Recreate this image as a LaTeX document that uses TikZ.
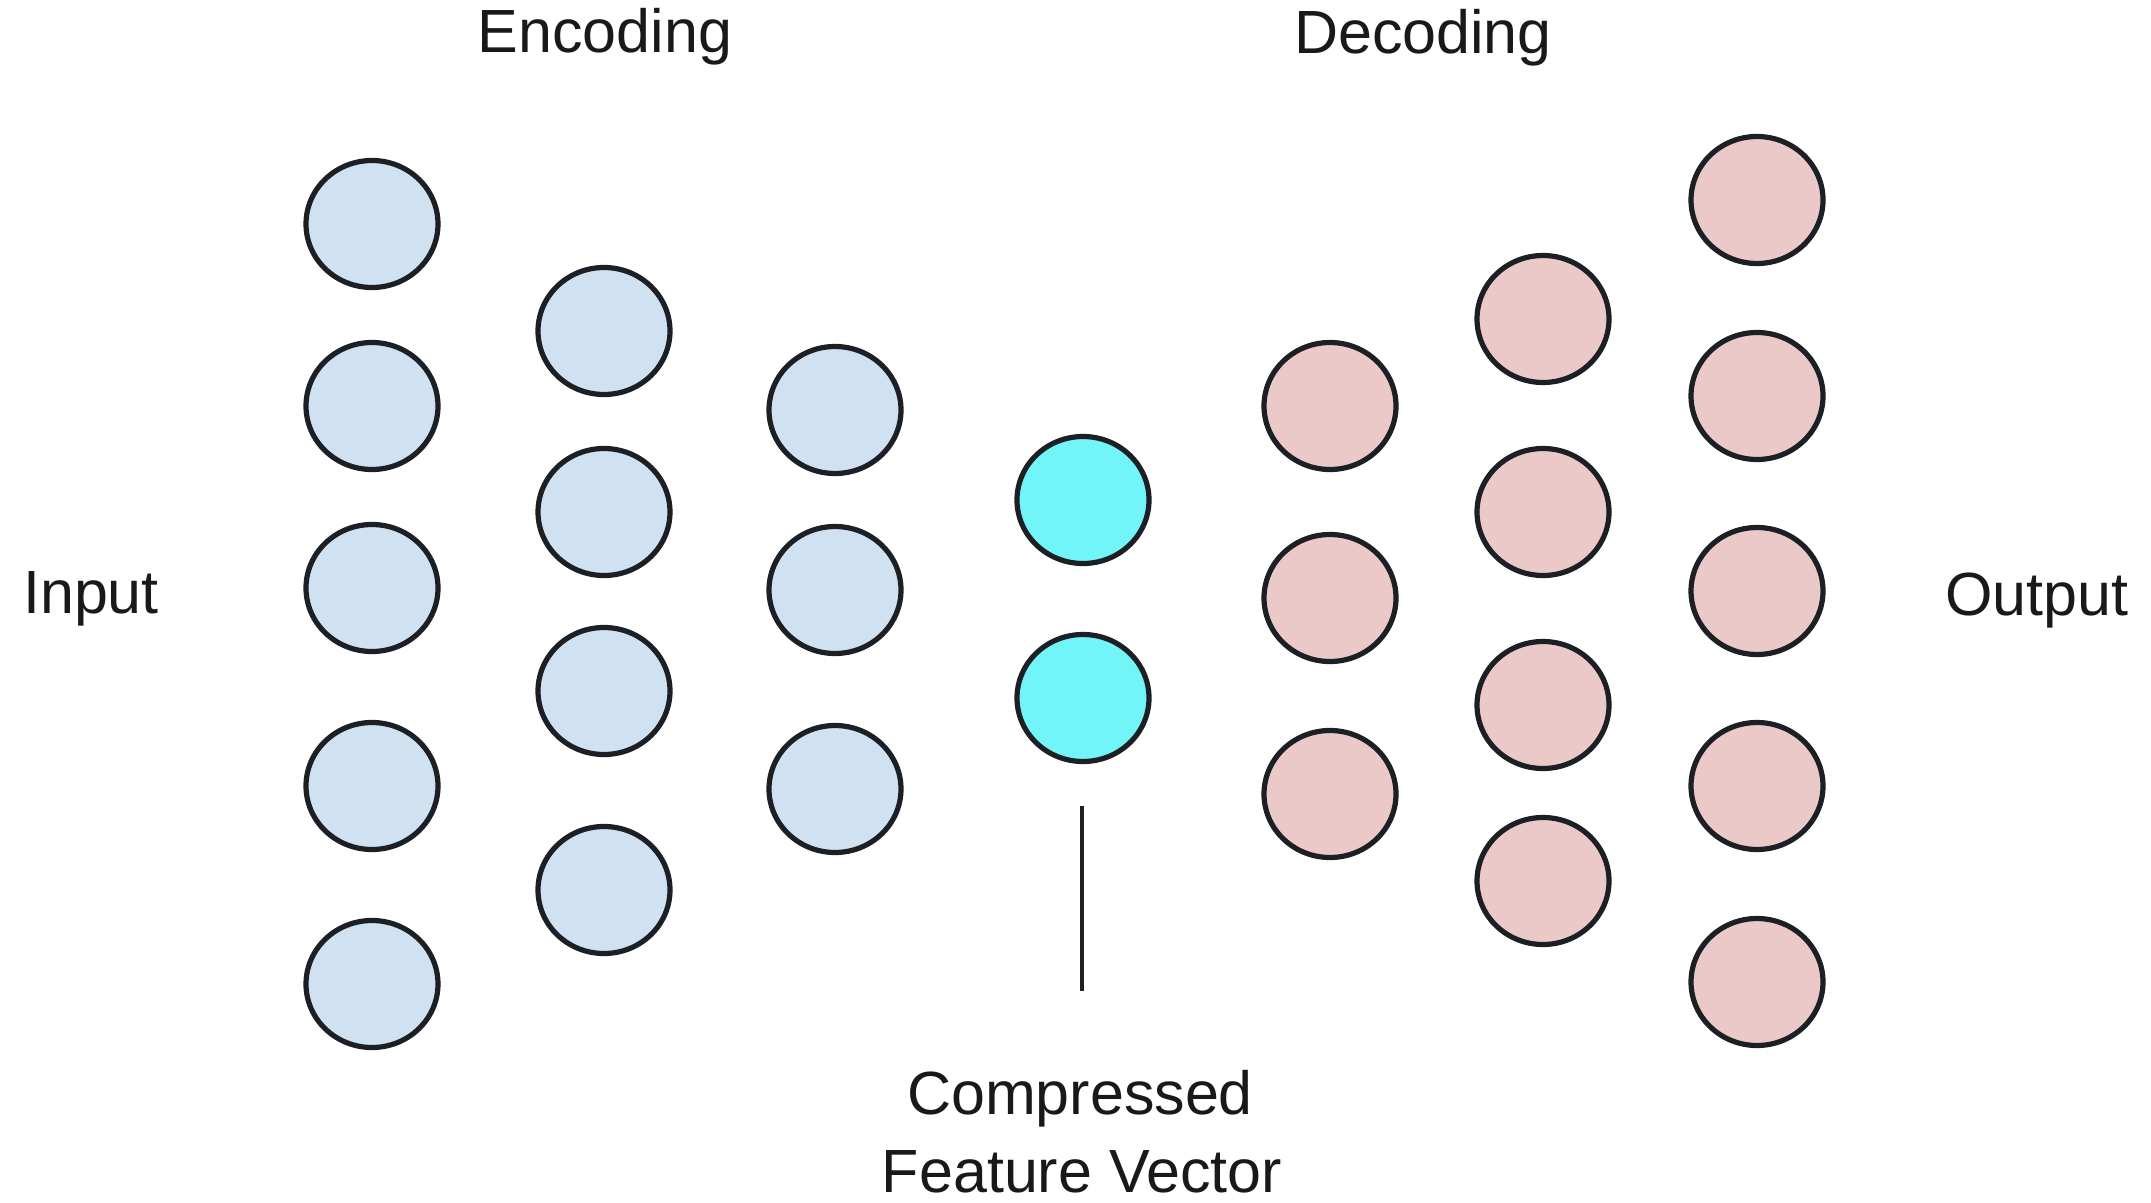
\documentclass[tikz,border=0pt]{standalone}
\usepackage{fontspec}
\setmainfont{Liberation Sans}
\usetikzlibrary{shapes.geometric}
\definecolor{encfill}{HTML}{D0E1F2}
\definecolor{decfill}{HTML}{EBC9C9}
\definecolor{codefill}{HTML}{72F5F8}
\definecolor{rim}{HTML}{1C2024}
\tikzset{
  neuron/.style={ellipse, draw=rim, line width=2.6pt, inner sep=0pt,
    minimum width=66pt, minimum height=63.5pt},
  encn/.style={neuron, fill=encfill},
  decn/.style={neuron, fill=decfill},
  coden/.style={neuron, fill=codefill},
  lbl/.style={anchor=base, inner sep=0pt, text=black!90,
    font=\fontsize{30.5}{39.5}\selectfont},
}
\begin{document}
\begin{tikzpicture}[x=0.5pt,y=-0.5pt]
\useasboundingbox (0,0) rectangle (2151,1203);
% encoder layer 1
\node[encn] (a1) at (372,224) {};
\node[encn] (a2) at (372,406) {};
\node[encn] (a3) at (372,588) {};
\node[encn] (a4) at (372,786) {};
\node[encn] (a5) at (372,984) {};
% encoder layer 2
\node[encn] (b1) at (604,331) {};
\node[encn] (b2) at (604,512) {};
\node[encn] (b3) at (604,691) {};
\node[encn] (b4) at (604,890) {};
% encoder layer 3
\node[encn] (c1) at (835,410) {};
\node[encn] (c2) at (835,590) {};
\node[encn] (c3) at (835,789) {};
% code
\node[coden] (z1) at (1083,500) {};
\node[coden] (z2) at (1083,698) {};
% decoder layer 1
\node[decn] (d1) at (1330,406) {};
\node[decn] (d2) at (1330,598) {};
\node[decn] (d3) at (1330,794) {};
% decoder layer 2
\node[decn] (e1) at (1543,319) {};
\node[decn] (e2) at (1543,512) {};
\node[decn] (e3) at (1543,705) {};
\node[decn] (e4) at (1543,881) {};
% decoder layer 3
\node[decn] (f1) at (1757,200) {};
\node[decn] (f2) at (1757,396) {};
\node[decn] (f3) at (1757,591) {};
\node[decn] (f4) at (1757,786) {};
\node[decn] (f5) at (1757,982) {};
% labels
\node[lbl] (enc) at (605,53) {Encoding};
\node[lbl] (dec) at (1423,54) {Decoding};
\node[lbl] (inp) at (91,613) {Input};
\node[lbl] (outp) at (2037,615) {Output};
\node[lbl] (cf1) at (1080,1114) {Compressed};
\node[lbl] (cf2) at (1082,1192) {Feature Vector};
% pointer line
\coordinate (lt) at (1082,806);
\coordinate (lb) at (1082,991);
\draw[line width=2pt, draw=rim] (lt) -- (lb);
\end{tikzpicture}
\end{document}
